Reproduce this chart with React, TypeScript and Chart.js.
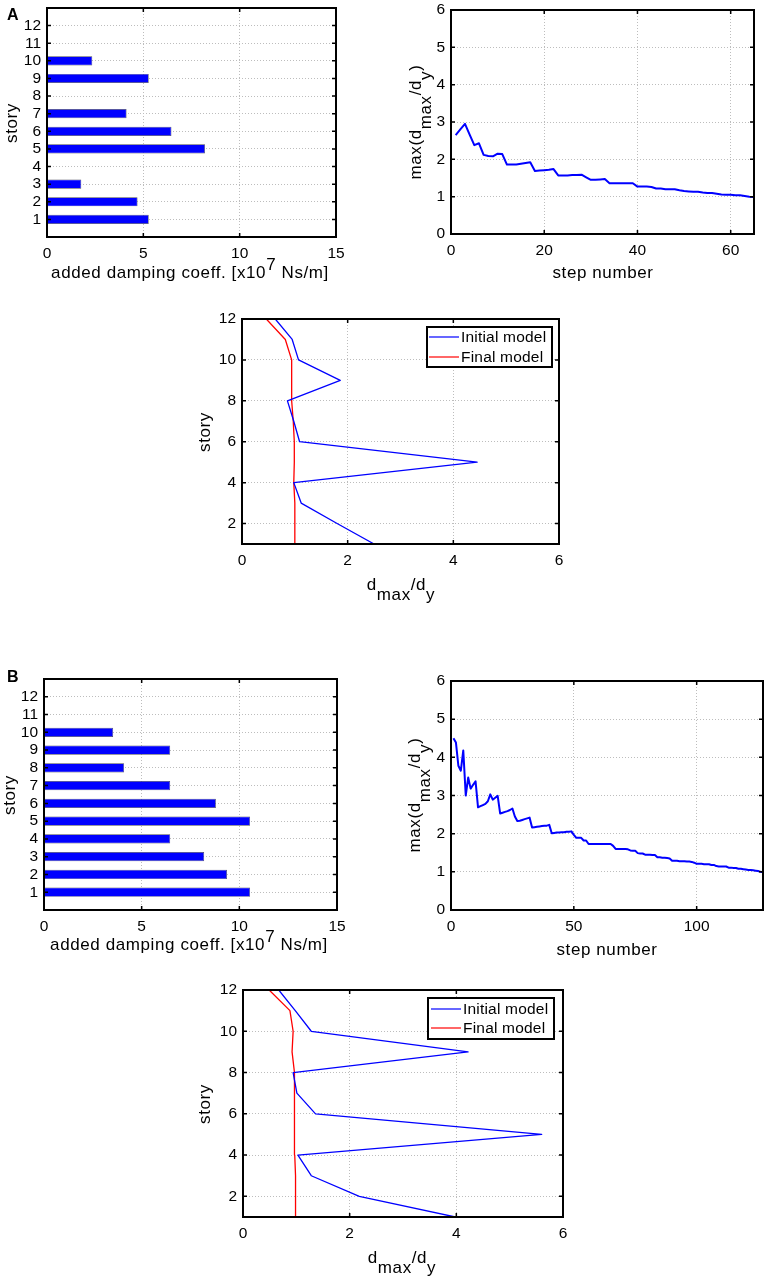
import { useEffect, useRef } from "react";
import { Chart, registerables } from "chart.js";

Chart.register(...registerables);

const stories = [1, 2, 3, 4, 5, 6, 7, 8, 9, 10, 11, 12];
const storyTicksBar = [1, 2, 3, 4, 5, 6, 7, 8, 9, 10, 11, 12];
const storyTicksLine = [2, 4, 6, 8, 10, 12];
const dampingTicks = [0, 5, 10, 15];
const ratioTicks = [0, 1, 2, 3, 4, 5, 6];
const driftTicks = [0, 2, 4, 6];
const stepTicksA = [0, 20, 40, 60];
const stepTicksB = [0, 50, 100];

const dampingA = [5.28, 4.7, 1.78, 0, 8.2, 6.46, 4.13, 0, 5.28, 2.35, 0, 0];
const dampingB = [10.55, 9.37, 8.2, 6.46, 10.55, 8.8, 6.46, 4.1, 6.46, 3.54, 0, 0];

const historyA = [
  2.65, 2.8, 2.95, 2.66, 2.38, 2.43, 2.12, 2.09, 2.08, 2.15, 2.14, 1.86, 1.86,
  1.86, 1.88, 1.9, 1.92, 1.69, 1.7, 1.71, 1.72, 1.74, 1.57, 1.57, 1.57, 1.58,
  1.58, 1.59, 1.52, 1.45, 1.45, 1.46, 1.47, 1.36, 1.36, 1.36, 1.36, 1.36, 1.36,
  1.27, 1.27, 1.27, 1.26, 1.22, 1.22, 1.2, 1.2, 1.2, 1.17, 1.15, 1.14, 1.13,
  1.13, 1.11, 1.1, 1.1, 1.08, 1.06, 1.05, 1.05, 1.04, 1.04, 1.02, 1.0, 0.99,
];

const historyB = [
  4.5, 4.39, 3.78, 3.65, 4.18, 3.0, 3.47, 3.18, 3.28, 3.37, 2.69, 2.72, 2.75,
  2.78, 2.85, 3.03, 2.89, 2.94, 2.99, 2.53, 2.55, 2.57, 2.59, 2.62, 2.66, 2.45,
  2.33, 2.34, 2.36, 2.38, 2.4, 2.42, 2.16, 2.17, 2.18, 2.19, 2.2, 2.21, 2.21,
  2.23, 2.01, 2.02, 2.03, 2.03, 2.04, 2.04, 2.05, 2.05, 2.06, 1.97, 1.89, 1.89,
  1.89, 1.82, 1.82, 1.73, 1.73, 1.73, 1.73, 1.73, 1.73, 1.73, 1.73, 1.73, 1.73,
  1.68, 1.6, 1.6, 1.6, 1.6, 1.6, 1.59, 1.56, 1.55, 1.55, 1.49, 1.48, 1.48, 1.45,
  1.45, 1.45, 1.44, 1.44, 1.38, 1.38, 1.37, 1.37, 1.36, 1.35, 1.29, 1.29, 1.29,
  1.28, 1.28, 1.28, 1.27, 1.27, 1.26, 1.24, 1.21, 1.21, 1.21, 1.2, 1.2, 1.2,
  1.18, 1.18, 1.15, 1.14, 1.14, 1.14, 1.14, 1.11, 1.11, 1.1, 1.1, 1.08, 1.08,
  1.07, 1.06, 1.05, 1.05, 1.04, 1.03, 1.02, 1.0, 0.99,
];

const initialA = [2.5, 1.8, 1.12, 0.98, 4.45, 1.09, 0.98, 0.86, 1.86, 1.07, 0.95, 0.63];
const finalA = [1.0, 1.0, 1.0, 0.98, 0.99, 0.99, 0.97, 0.94, 0.94, 0.94, 0.82, 0.46];
const initialB = [3.98, 2.18, 1.28, 1.03, 5.6, 1.36, 1.01, 0.94, 4.22, 1.28, 0.98, 0.67];
const finalB = [0.99, 0.99, 0.98, 0.97, 0.96, 0.96, 0.97, 0.97, 0.92, 0.94, 0.88, 0.49];

const seriesNames = ["Initial model", "Final model"];

const dampingTitle = [
  { t: "added damping coeff. [x10" },
  { t: "7", shift: -8 },
  { t: " Ns/m]" },
];
const stepTitle = [{ t: "step number" }];
const storyTitle = [{ t: "story" }];
const maxTitle = [
  { t: "max(d" },
  { t: "max", shift: 10 },
  { t: "/d" },
  { t: "y", shift: 10 },
  { t: ")" },
];
const driftTitle = [
  { t: "d" },
  { t: "max", shift: 10 },
  { t: "/d" },
  { t: "y", shift: 10 },
];

const TITLE_FONT = "17px 'Liberation Sans'";

function drawRuns(ctx: CanvasRenderingContext2D, runs: any[], cx: number, cy: number, vertical: boolean) {
  ctx.save();
  ctx.font = TITLE_FONT;
  (ctx as any).letterSpacing = "0.6px";
  ctx.fillStyle = "#000";
  ctx.textAlign = "left";
  ctx.textBaseline = "alphabetic";
  const total = runs.reduce((sum, r) => sum + ctx.measureText(r.t).width, 0);
  ctx.translate(cx, cy);
  if (vertical) ctx.rotate(-Math.PI / 2);
  let x = -total / 2;
  for (const r of runs) {
    ctx.fillText(r.t, x, r.shift || 0);
    x += ctx.measureText(r.t).width;
  }
  ctx.restore();
}

function decor(spec: any) {
  return {
    id: "decor",
    afterDraw(chart: any) {
      const { ctx, chartArea: a, scales } = chart;
      const [ox, oy] = spec.rect;
      ctx.save();
      ctx.strokeStyle = "#000";
      // ticks point inward on all four sides
      ctx.lineWidth = 1.5;
      ctx.beginPath();
      for (const t of scales.x.ticks) {
        const px = scales.x.getPixelForValue(t.value);
        ctx.moveTo(px, a.bottom);
        ctx.lineTo(px, a.bottom - 4);
        ctx.moveTo(px, a.top);
        ctx.lineTo(px, a.top + 4);
      }
      for (const t of scales.y.ticks) {
        const py = scales.y.getPixelForValue(t.value);
        ctx.moveTo(a.left, py);
        ctx.lineTo(a.left + 4, py);
        ctx.moveTo(a.right, py);
        ctx.lineTo(a.right - 4, py);
      }
      ctx.stroke();
      ctx.lineWidth = 2;
      ctx.strokeRect(a.left, a.top, a.right - a.left, a.bottom - a.top);

      if (spec.legend) {
        const l = spec.legend;
        ctx.fillStyle = "#fff";
        ctx.fillRect(l.x - ox, l.y - oy, l.w, l.h);
        ctx.strokeRect(l.x - ox, l.y - oy, l.w, l.h);
        chart.data.datasets.forEach((d: any, i: number) => {
          const rowY = l.rows[i] - oy;
          ctx.strokeStyle = d.borderColor;
          ctx.lineWidth = 1.2;
          ctx.beginPath();
          ctx.moveTo(l.lineX - ox, rowY);
          ctx.lineTo(l.lineX + 30 - ox, rowY);
          ctx.stroke();
          ctx.fillStyle = "#000";
          ctx.font = "15.5px 'Liberation Sans'";
          (ctx as any).letterSpacing = "0.2px";
          ctx.textBaseline = "middle";
          ctx.textAlign = "left";
          ctx.fillText(d.label, l.lineX + 32 - ox, rowY + 1);
        });
      }
      if (spec.tag) {
        ctx.fillStyle = "#000";
        ctx.font = "bold 16px 'Liberation Sans'";
        (ctx as any).letterSpacing = "0px";
        ctx.textBaseline = "alphabetic";
        ctx.textAlign = "left";
        ctx.fillText(spec.tag.text, spec.tag.x - ox, spec.tag.y - oy);
      }
      ctx.restore();

      drawRuns(ctx, spec.xTitle.runs, spec.xTitle.x - ox, spec.xTitle.y - oy, false);
      drawRuns(ctx, spec.yTitle.runs, spec.yTitle.x - ox, spec.yTitle.y - oy, true);
    },
  };
}

function axis(min: number, max: number, tickList: number[], side: "width" | "height", margin: number) {
  return {
    type: "linear",
    min,
    max,
    offset: false,
    afterBuildTicks: (scale: any) => {
      scale.ticks = tickList.map((value) => ({ value }));
    },
    // fixed margins, so the plot box sits exactly where asked
    afterFit: (scale: any) => {
      scale[side] = margin;
      scale.paddingLeft = 0;
      scale.paddingRight = 0;
      scale.paddingTop = 0;
      scale.paddingBottom = 0;
    },
    grid: {
      offset: false,
      color: "#bdbdbd",
      lineWidth: 1,
      drawTicks: false,
    },
    border: { display: false, dash: [1, 2] },
    ticks: {
      autoSkip: false,
      maxRotation: 0,
      minRotation: 0,
      padding: side === "width" ? 6 : 7,
      color: "#000",
      font: { family: "'Liberation Sans'", size: 15.5 },
    },
  };
}

function Panel({ spec }: { spec: any }) {
  const canvasRef = useRef<HTMLCanvasElement | null>(null);
  const [left, top, width, height] = spec.rect;

  useEffect(() => {
    if (!canvasRef.current) return;
    const [x0, y0, x1, y1] = spec.plot;
    const chart = new Chart(canvasRef.current, {
      type: spec.type,
      data: { datasets: spec.datasets },
      options: {
        responsive: false,
        animation: false,
        indexAxis: spec.indexAxis,
        layout: {
          padding: { left: 0, top: y0 - top, right: left + width - x1, bottom: 0 },
        },
        plugins: { legend: { display: false }, tooltip: { enabled: false } },
        scales: {
          x: axis(spec.xRange[0], spec.xRange[1], spec.xTicks, "height", top + height - y1),
          y: axis(spec.yRange[0], spec.yRange[1], spec.yTicks, "width", x0 - left),
        },
      } as any,
      plugins: [decor(spec)],
    } as any);
    return () => chart.destroy();
  }, [spec]);

  return (
    <canvas
      ref={canvasRef}
      width={width}
      height={height}
      style={{ position: "absolute", left, top, width, height }}
    />
  );
}

function barSet(values: number[]) {
  return [
    {
      label: "added damping",
      data: values.map((v, i) => ({ x: v, y: stories[i] })),
      backgroundColor: "#0000ff",
      borderColor: "#4a4a5a",
      borderWidth: 0.7,
      barPercentage: 0.52,
      categoryPercentage: 1,
    },
  ];
}

function historySet(values: number[]) {
  return [
    {
      label: "max ratio",
      data: values.map((v, i) => ({ x: i + 1, y: v })),
      borderColor: "#0000ff",
      borderWidth: 2,
      borderJoinStyle: "round",
      pointRadius: 0,
      tension: 0,
    },
  ];
}

function profileSets(initial: number[], final: number[]) {
  return [
    {
      label: seriesNames[0],
      data: initial.map((v, i) => ({ x: v, y: stories[i] })),
      borderColor: "#0000ff",
      borderWidth: 1.3,
      borderJoinStyle: "round",
      pointRadius: 0,
    },
    {
      label: seriesNames[1],
      data: final.map((v, i) => ({ x: v, y: stories[i] })),
      borderColor: "#ff0000",
      borderWidth: 1.3,
      borderJoinStyle: "round",
      pointRadius: 0,
    },
  ];
}

const panels = [
  {
    rect: [0, 0, 384, 300],
    plot: [47, 8, 336, 237],
    type: "bar",
    indexAxis: "y",
    datasets: barSet(dampingA),
    xRange: [0, 15],
    yRange: [0, 13],
    xTicks: dampingTicks,
    yTicks: storyTicksBar,
    xTitle: { runs: dampingTitle, x: 190, y: 278 },
    yTitle: { runs: storyTitle, x: 17, y: 123 },
    tag: { text: "A", x: 7, y: 20 },
  },
  {
    rect: [384, 0, 383, 300],
    plot: [451, 10, 754, 234],
    type: "line",
    indexAxis: "x",
    datasets: historySet(historyA),
    xRange: [0, 65],
    yRange: [0, 6],
    xTicks: stepTicksA,
    yTicks: ratioTicks,
    xTitle: { runs: stepTitle, x: 603, y: 278 },
    yTitle: { runs: maxTitle, x: 421, y: 122 },
  },
  {
    rect: [190, 305, 380, 300],
    plot: [242, 319, 559, 544],
    type: "line",
    indexAxis: "y",
    datasets: profileSets(initialA, finalA),
    xRange: [0, 6],
    yRange: [1, 12],
    xTicks: driftTicks,
    yTicks: storyTicksLine,
    legend: { x: 427, y: 327, w: 125, h: 40, lineX: 429, rows: [337, 357] },
    xTitle: { runs: driftTitle, x: 401, y: 590 },
    yTitle: { runs: storyTitle, x: 210, y: 432 },
  },
  {
    rect: [0, 660, 384, 300],
    plot: [44, 679, 337, 910],
    type: "bar",
    indexAxis: "y",
    datasets: barSet(dampingB),
    xRange: [0, 15],
    yRange: [0, 13],
    xTicks: dampingTicks,
    yTicks: storyTicksBar,
    xTitle: { runs: dampingTitle, x: 189, y: 950 },
    yTitle: { runs: storyTitle, x: 15, y: 795 },
    tag: { text: "B", x: 7, y: 682 },
  },
  {
    rect: [384, 660, 383, 300],
    plot: [451, 681, 763, 910],
    type: "line",
    indexAxis: "x",
    datasets: historySet(historyB),
    xRange: [0, 127],
    yRange: [0, 6],
    xTicks: stepTicksB,
    yTicks: ratioTicks,
    xTitle: { runs: stepTitle, x: 607, y: 955 },
    yTitle: { runs: maxTitle, x: 420, y: 795 },
  },
  {
    rect: [190, 975, 380, 305],
    plot: [243, 990, 563, 1217],
    type: "line",
    indexAxis: "y",
    datasets: profileSets(initialB, finalB),
    xRange: [0, 6],
    yRange: [1, 12],
    xTicks: driftTicks,
    yTicks: storyTicksLine,
    legend: { x: 428, y: 998, w: 126, h: 41, lineX: 431, rows: [1009, 1028] },
    xTitle: { runs: driftTitle, x: 402, y: 1263 },
    yTitle: { runs: storyTitle, x: 210, y: 1104 },
  },
];

export default function App() {
  return (
    <div style={{ position: "absolute", left: 0, top: 0, width: 767, height: 1280, background: "#fff" }}>
      {panels.map((spec, i) => (
        <Panel key={i} spec={spec} />
      ))}
    </div>
  );
}
